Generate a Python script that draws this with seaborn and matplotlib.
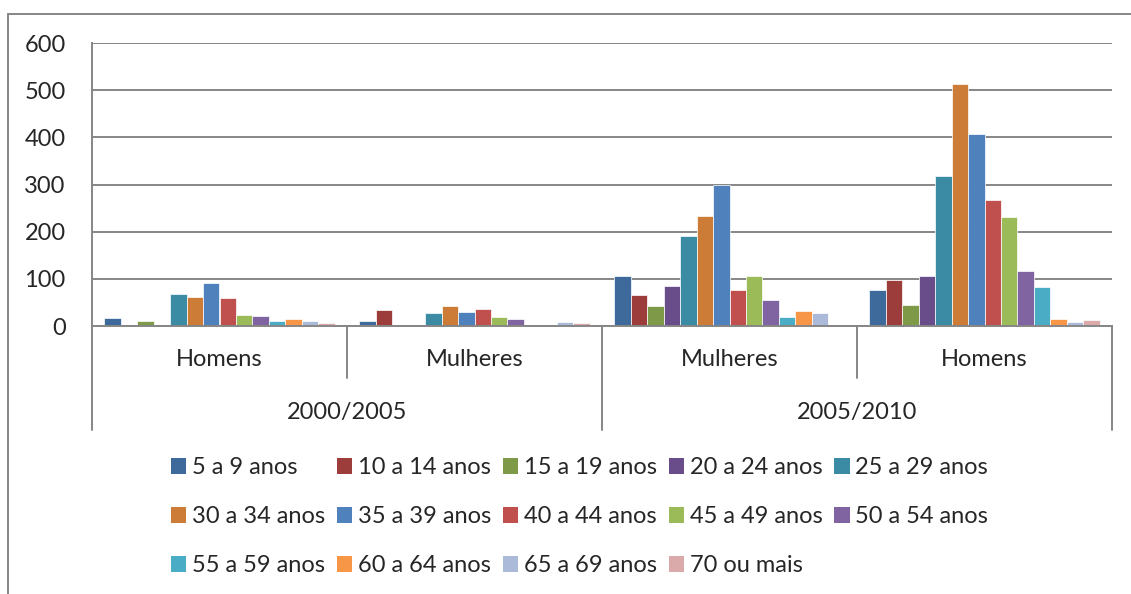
"""Distribuição por faixa etária: Homens/Mulheres em 2000/2005 e 2005/2010."""

import matplotlib.pyplot as plt
import pandas as pd
import seaborn as sns
from matplotlib.lines import Line2D
from matplotlib.patches import Patch, Rectangle

PERIODOS = ["2000/2005", "2005/2010"]
SEXOS = ["Homens", "Mulheres", "Mulheres", "Homens"]
GRUPOS = ["2000/2005 Homens", "2000/2005 Mulheres", "2005/2010 Mulheres", "2005/2010 Homens"]
FAIXAS = [
    "5 a 9 anos", "10 a 14 anos", "15 a 19 anos", "20 a 24 anos", "25 a 29 anos",
    "30 a 34 anos", "35 a 39 anos", "40 a 44 anos", "45 a 49 anos", "50 a 54 anos",
    "55 a 59 anos", "60 a 64 anos", "65 a 69 anos", "70 ou mais",
]
HOMENS_2000 = [18, 0, 11, 0, 68, 62, 91, 59, 23, 21, 11, 15, 11, 6]
MULHERES_2000 = [11, 33, 0, 0, 27, 42, 30, 36, 19, 15, 0, 0, 9, 6]
MULHERES_2005 = [106, 65, 43, 84, 190, 234, 299, 76, 106, 55, 19, 31, 28, 0]
HOMENS_2005 = [76, 98, 45, 106, 317, 513, 407, 267, 232, 116, 83, 15, 8, 13]
CORES = [
    "#3E699B", "#9C3D3C", "#7E9A48", "#684D8A", "#3A8BA3", "#CC7C37", "#4F81BD",
    "#C0504D", "#9BBB59", "#8064A2", "#4BACC6", "#F79646", "#AABAD8", "#D9AAA9",
]
CINZA = "#868686"
TAMANHO = 17

linhas = []
for grupo, valores in zip(GRUPOS, [HOMENS_2000, MULHERES_2000, MULHERES_2005, HOMENS_2005]):
    for faixa, valor in zip(FAIXAS, valores):
        linhas.append({"grupo": grupo, "faixa": faixa, "valor": valor})
dados = pd.DataFrame(linhas)

sns.set_style("white")
plt.rcParams["font.family"] = ["Lato", "DejaVu Sans"]

fig = plt.figure(figsize=(11.31, 5.94), dpi=100)
ax = fig.add_axes([92 / 1131, 1 - 326 / 594, 1020 / 1131, 283 / 594])

sns.barplot(
    data=dados, x="grupo", y="valor", hue="faixa", order=GRUPOS, hue_order=FAIXAS,
    palette=CORES, saturation=1, width=14 / 15.5, errorbar=None, legend=False,
    edgecolor="white", linewidth=0.5, ax=ax,
)

ax.set_xlim(-0.5, len(GRUPOS) - 0.5)
ax.set_ylim(0, 600)
ax.set_yticks(range(0, 601, 100))
ax.set_xticks([])
ax.set_xlabel("")
ax.set_ylabel("")
ax.set_axisbelow(True)
ax.yaxis.grid(True, color=CINZA, linewidth=1.4)
ax.tick_params(axis="y", length=5, width=1.3, color=CINZA, pad=14,
               labelsize=TAMANHO, direction="out")
for lado in ["top", "right"]:
    ax.spines[lado].set_visible(False)
for lado in ["left", "bottom"]:
    ax.spines[lado].set_color(CINZA)
    ax.spines[lado].set_linewidth(1.4)

# eixo de categorias em dois níveis
trans = ax.get_xaxis_transform()
for pos, fundo in [(-0.5, -0.367), (0.5, -0.184), (1.5, -0.367), (2.5, -0.184), (3.5, -0.367)]:
    ax.add_line(Line2D([pos, pos], [0, fundo], transform=trans, color=CINZA,
                       linewidth=1.4, clip_on=False))
for i, sexo in enumerate(SEXOS):
    ax.text(i, -0.12, sexo, transform=trans, ha="center", va="center", fontsize=TAMANHO)
for i, periodo in enumerate(PERIODOS):
    ax.text(2 * i + 0.5, -0.304, periodo, transform=trans, ha="center", va="center",
            fontsize=TAMANHO)

# legenda preenchida por linhas, como no original
handles = [Patch(facecolor=cor, edgecolor="none") for cor in CORES]
ordem = [0, 5, 10, 1, 6, 11, 2, 7, 12, 3, 8, 13, 4, 9]
fig.legend(
    [handles[i] for i in ordem], [FAIXAS[i] for i in ordem],
    ncol=5, loc="upper left", bbox_to_anchor=(171 / 1131, 1 - 457 / 594),
    frameon=False, fontsize=TAMANHO, handlelength=0.64, handleheight=0.64,
    handletextpad=0.25, columnspacing=0.5, labelspacing=1.19,
    borderpad=0, borderaxespad=0,
)

fig.patches.append(Rectangle((8 / 1131, -0.1), 1.1, 1.1 - 14 / 594,
                             transform=fig.transFigure, fill=False,
                             edgecolor=CINZA, linewidth=1.4))

fig.savefig("out.png", dpi=100)
